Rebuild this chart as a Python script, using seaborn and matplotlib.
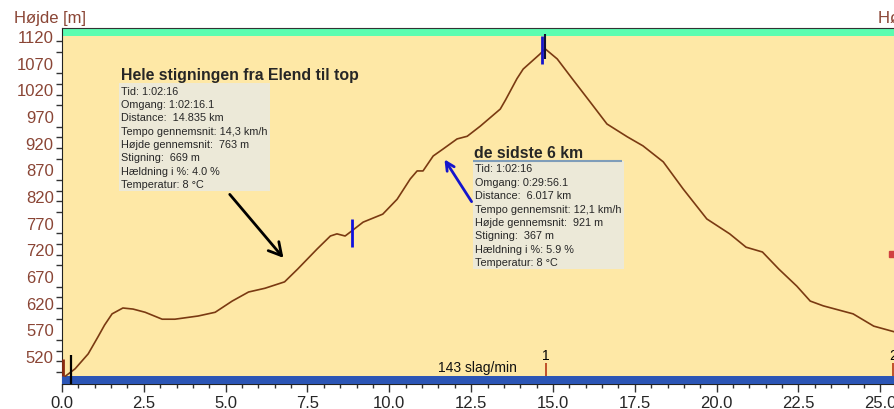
import numpy as np
import pandas as pd
import matplotlib
matplotlib.use("Agg")
import matplotlib.pyplot as plt
import seaborn as sns

# elevation profile
distance_km = [0.1, 0.4, 0.8, 1.1, 1.3, 1.53, 1.86, 2.17, 2.54, 3.06, 3.45, 4.16,
               4.68, 5.2, 5.7, 6.2, 6.8, 7.2, 7.8, 8.2, 8.4, 8.65, 8.8, 9.2,
               9.8, 10.24, 10.64, 10.85, 11.03, 11.34, 11.64, 12.07, 12.38, 12.78,
               13.39, 13.55, 13.9, 14.09, 14.6, 14.76, 15.13, 15.6, 16.14, 16.65,
               17.27, 17.75, 18.37, 18.98, 19.7, 20.4, 20.9, 21.4, 21.9, 22.45,
               22.86, 23.26, 24.17, 24.8, 25.45]
elevation_m = [482, 496, 524, 556, 578, 599, 610, 608, 602, 589, 589, 595,
               602, 623, 640, 647, 659, 683, 721, 745, 749, 745, 752, 771,
               786, 814, 852, 867, 867, 895, 908, 927, 932, 951,
               983, 1000, 1040, 1058, 1086, 1096, 1077, 1039, 996, 955,
               931, 914, 884, 833, 777, 749, 724, 715, 683, 651,
               623, 614, 599, 576, 565]

y_labels = [520, 570, 620, 670, 720, 770, 820, 870, 920, 970, 1020, 1070, 1120]
x_labels = [0.0, 2.5, 5.0, 7.5, 10.0, 12.5, 15.0, 17.5, 20.0, 22.5, 25.0]

box1_title = "Hele stigningen fra Elend til top"
box1_lines = ["Tid: 1:02:16", "Omgang: 1:02:16.1", "Distance:  14.835 km",
              "Tempo gennemsnit: 14,3 km/h", "Højde gennemsnit:  763 m",
              "Stigning:  669 m", "Hældning i %: 4.0 %", "Temperatur: 8 °C"]
box2_title = "de sidste 6 km"
box2_lines = ["Tid: 1:02:16", "Omgang: 0:29:56.1", "Distance:  6.017 km",
              "Tempo gennemsnit: 12,1 km/h", "Højde gennemsnit:  921 m",
              "Stigning:  367 m", "Hældning i %: 5.9 %", "Temperatur: 8 °C"]

lap_km = [14.79, 25.4]
lap_names = ["1", "2"]

df = pd.DataFrame({"km": distance_km, "hoejde": elevation_m})

sns.set_style("ticks")
plt.rcParams["font.family"] = ["Liberation Sans", "DejaVu Sans"]

fig = plt.figure(figsize=(8.95, 4.10), dpi=100)
ax = fig.add_axes([62 / 895, 1 - 385 / 410, 1 - 62 / 895, (385 - 29) / 410])
ax.set_facecolor("#FEE8A6")

ax.axhspan(1120, 1135, color="#5CFDB0", lw=0, zorder=0)
ax.axhspan(467.5, 482.5, color="#2B55B5", lw=0, zorder=3)

sns.lineplot(data=df, x="km", y="hoejde", color="#7A3A12", lw=1.2, ax=ax, zorder=4)

ax.set_xlim(0, 25.45)
ax.set_ylim(467.5, 1135)
ax.set_xlabel("")
ax.set_ylabel("")

ax.set_xticks(x_labels)
ax.set_xticklabels([f"{v:.1f}" for v in x_labels], fontsize=12)
ax.set_xticks(np.arange(0, 25.5, 0.5), minor=True)
ax.tick_params(axis="x", which="major", length=6, width=1, color="#333333", pad=2)
ax.tick_params(axis="x", which="minor", length=3, width=1, color="#333333")

ax.set_yticks(y_labels)
ax.set_yticklabels([str(v) for v in y_labels], fontsize=12, color="#8A4535")
ax.set_yticks(np.arange(490, 1120, 20), minor=True)
ax.tick_params(axis="y", which="major", length=0, pad=6)
ax.tick_params(axis="y", which="minor", length=4, width=1, color="#333333")

ax.spines["right"].set_visible(False)
ax.spines["left"].set_color("#222222")
ax.spines["top"].set_color("#333333")
ax.spines["bottom"].set_color("#222222")

# marker lines
ax.vlines(0.27, 467.5, 522, color="black", lw=1.6, zorder=5)
ax.vlines(0.02, 482, 515, color="#8B2A10", lw=2, zorder=5)
ax.vlines(8.85, 724, 777, color="#1010DD", lw=2, zorder=5)
ax.vlines(14.66, 1067, 1120, color="#1515CC", lw=2, zorder=5)
ax.vlines(14.75, 1077, 1123, color="#111133", lw=1.5, zorder=5)

# laps
for k, name in zip(lap_km, lap_names):
    ax.vlines(k, 482.5, 507, color="#C0502A", lw=1.4, zorder=5)
    ax.text(k, 522, name, ha="center", va="center", fontsize=10, color="black")
ax.plot([25.35], [712], "s", color="#D04040", ms=4, zorder=5)
ax.text(12.7, 499, "143 slag/min", ha="center", va="center", fontsize=10, color="#111111")

# text boxes
ax.text(1.8, 1047, box1_title, fontsize=11.4, fontweight="bold", va="center", zorder=6)
ax.text(1.8, 1027, "\n".join(box1_lines), fontsize=7.8, va="top", ha="left",
        linespacing=1.42, zorder=6,
        bbox=dict(boxstyle="square,pad=0.2", fc="#ECE9D8", ec="none"))
ax.text(12.6, 902, box2_title, fontsize=11.4, fontweight="bold", va="center", zorder=6)
ax.text(12.62, 881, "\n".join(box2_lines), fontsize=7.8, va="top", ha="left",
        linespacing=1.42, zorder=6,
        bbox=dict(boxstyle="square,pad=0.2", fc="#ECE9D8", ec="none"))
ax.hlines(886, 12.56, 17.11, color="#7F9DB9", lw=1.5, zorder=7)

# hand drawn arrows
ax.annotate("", xy=(6.82, 700), xytext=(5.07, 827),
            arrowprops=dict(arrowstyle="->,head_length=0.9,head_width=0.5", color="black", lw=2))
ax.annotate("", xy=(11.64, 893), xytext=(12.56, 805),
            arrowprops=dict(arrowstyle="->,head_length=0.6,head_width=0.3", color="#1515CC", lw=2))

fig.text(14 / 895, 1 - 18 / 410, "Højde [m]", fontsize=12, color="#8A4535", va="center")
fig.text(878 / 895, 1 - 18 / 410, "Højde [m]", fontsize=12, color="#8A4535", va="center")

fig.savefig("out.png", dpi=100)
